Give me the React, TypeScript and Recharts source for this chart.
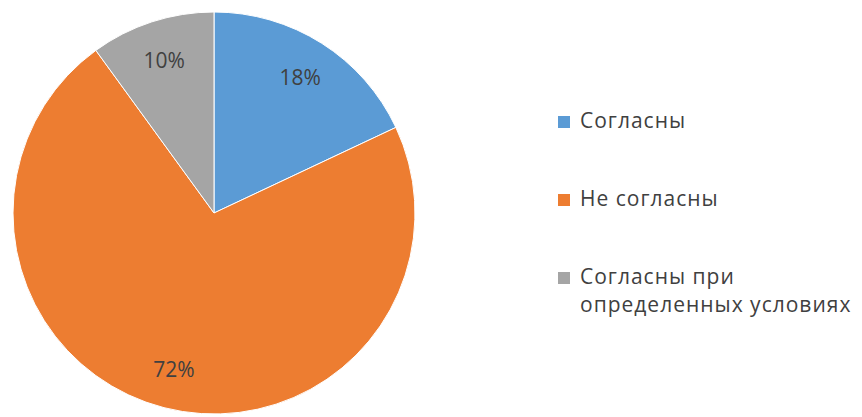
import { PieChart, Pie, Cell, Legend } from 'recharts'

const categories = ['Согласны', 'Не согласны', 'Согласны при определенных условиях']
const shares = [18, 72, 10]
const colors = ['#5B9BD5', '#ED7D31', '#A5A5A5']
// legend text as it wraps in the original
const legendLines: string[][] = [['Согласны'], ['Не согласны'], ['Согласны при', 'определенных условиях']]

const data = categories.map((name, i) => ({ name, value: shares[i] }))

const RAD = Math.PI / 180
const FONT = "'Open Sans', Lato, sans-serif"

function SliceLabel({ cx, cy, midAngle, outerRadius, value }: any) {
  const r = outerRadius * 0.8
  const x = cx + r * Math.cos(-midAngle * RAD)
  const y = cy + r * Math.sin(-midAngle * RAD)
  return (
    <text
      x={x}
      y={y}
      fill="#404040"
      fontSize={21}
      fontFamily={FONT}
      textAnchor="middle"
      dominantBaseline="central"
    >
      {`${value}%`}
    </text>
  )
}

function LegendBox() {
  return (
    <div style={{ fontFamily: FONT, fontSize: 21, color: '#404040', letterSpacing: 1 }}>
      {legendLines.map((ls, i) => (
        <div key={i} style={{ display: 'flex', alignItems: 'flex-start', height: 78 }}>
          <span
            style={{
              display: 'inline-block',
              width: 12,
              height: 12,
              background: colors[i],
              marginTop: 8,
              marginRight: 10,
              flex: 'none',
            }}
          />
          <span style={{ lineHeight: '28px', marginTop: -2 }}>
            {ls.map((t, j) => (
              <div key={j}>{t}</div>
            ))}
          </span>
        </div>
      ))}
    </div>
  )
}

export default function App() {
  return (
    <div style={{ position: 'absolute', left: 0, top: 0, width: 862, height: 417, background: '#fff' }}>
      <PieChart width={862} height={417} margin={{ top: 0, right: 0, bottom: 0, left: 0 }}>
        <Pie
          data={data}
          dataKey="value"
          nameKey="name"
          cx={214}
          cy={213}
          outerRadius={201}
          startAngle={90}
          endAngle={-270}
          stroke="#ffffff"
          strokeWidth={1}
          label={<SliceLabel />}
          labelLine={false}
          isAnimationActive={false}
        >
          {data.map((d, i) => (
            <Cell key={d.name} fill={colors[i]} />
          ))}
        </Pie>
        <Legend
          content={<LegendBox />}
          wrapperStyle={{ position: 'absolute', left: 558, top: 108, width: 304 }}
        />
      </PieChart>
    </div>
  )
}
